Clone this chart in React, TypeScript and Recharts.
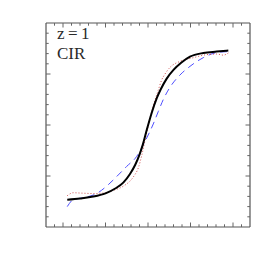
import React from 'react';
import { LineChart, Line, XAxis, YAxis } from 'recharts';

const blackX = [2.5, 4.0, 5.56, 7.0, 8.2, 9.09, 9.88, 10.5, 11.0, 11.4, 11.85, 12.44, 13.02, 13.5, 14.2, 15.0, 15.9, 16.94, 18.5, 20.08, 21.45];
const blackY = [2.68, 2.8, 2.98, 3.3, 3.8, 4.35, 5.2, 6.1, 7.1, 8.1, 9.5, 11.2, 12.6, 13.5, 14.55, 15.4, 16.1, 16.7, 17.06, 17.2, 17.3];

const redX = [2.5, 3.21, 4.0, 5.56, 6.74, 7.92, 9.09, 10.27, 10.86, 11.26, 11.65, 12.04, 12.62, 13.2, 13.6, 14.0, 14.59, 15.76, 17.33, 18.9, 20.08, 20.86, 21.45];
const redY = [3.07, 3.36, 3.33, 3.28, 3.33, 3.6, 4.0, 4.9, 5.8, 7.0, 8.5, 10.0, 11.9, 13.4, 14.4, 15.0, 15.65, 16.24, 16.6, 16.9, 16.96, 16.85, 17.06];

const blueX = [2.5, 3.21, 4.24, 6.0, 7.33, 8.5, 9.49, 10.67, 11.65, 12.62, 13.2, 13.8, 14.59, 15.76, 16.94, 18.5, 20.08, 21.45];
const blueY = [2.0, 2.68, 2.85, 3.3, 4.15, 5.1, 5.94, 6.92, 8.4, 10.1, 11.3, 12.5, 13.7, 14.9, 15.75, 16.6, 17.1, 17.2];

const xTicks = Array.from({ length: 23 }, (_, i) => i + 1);
const yTicks = Array.from({ length: 19 }, (_, i) => i + 1);
const xMajor = [2, 7, 12, 17, 22];
const yMajor = [5, 10, 15];

const labels = ['z\u2009=\u20091', 'CIR'];

const toRows = (xs: number[], ys: number[]) => xs.map((x, i) => ({ x, y: ys[i] }));
const black = toRows(blackX, blackY);
const red = toRows(redX, redY);
const blue = toRows(blueX, blueY);

const TICK = '#666';
const FRAME = '#555';

const makeTick = (side: 'bottom' | 'top' | 'left' | 'right', majors: number[]) => (props: any) => {
  const { x, y, payload } = props;
  const len = majors.includes(payload.value) ? 4.5 : 2.7;
  let x2 = x, y2 = y;
  if (side === 'bottom') y2 = y - len;
  if (side === 'top') y2 = y + len;
  if (side === 'left') x2 = x + len;
  if (side === 'right') x2 = x - len;
  return <line x1={x} y1={y} x2={x2} y2={y2} stroke={TICK} strokeWidth={1} />;
};

export default function App() {
  return (
    <div style={{ position: 'absolute', left: 0, top: 0, width: 273, height: 273, background: '#fff' }}>
      <LineChart width={273} height={273} margin={{ top: 22, left: 45, right: 22, bottom: 45 }}>
        <XAxis xAxisId="b" dataKey="x" type="number" domain={[0, 24]} ticks={xTicks} interval={0}
          orientation="bottom" height={1} tickSize={0} tickMargin={0} tickLine={false}
          axisLine={{ stroke: FRAME, strokeWidth: 1.2 }} tick={makeTick('bottom', xMajor)} allowDataOverflow />
        <XAxis xAxisId="t" dataKey="x" type="number" domain={[0, 24]} ticks={xTicks} interval={0}
          orientation="top" height={1} tickSize={0} tickMargin={0} tickLine={false}
          axisLine={{ stroke: FRAME, strokeWidth: 1.2 }} tick={makeTick('top', xMajor)} allowDataOverflow />
        <YAxis yAxisId="l" dataKey="y" type="number" domain={[0, 20]} ticks={yTicks} interval={0}
          orientation="left" width={1} tickSize={0} tickMargin={0} tickLine={false}
          axisLine={{ stroke: FRAME, strokeWidth: 1.2 }} tick={makeTick('left', yMajor)} allowDataOverflow />
        <YAxis yAxisId="r" dataKey="y" type="number" domain={[0, 20]} ticks={yTicks} interval={0}
          orientation="right" width={1} tickSize={0} tickMargin={0} tickLine={false}
          axisLine={{ stroke: FRAME, strokeWidth: 1.2 }} tick={makeTick('right', yMajor)} allowDataOverflow />
        <Line xAxisId="b" yAxisId="l" data={blue} dataKey="y" type="monotone" stroke="#4d4dff"
          strokeWidth={1} strokeDasharray="7 5" dot={false} isAnimationActive={false} />
        <Line xAxisId="b" yAxisId="l" data={red} dataKey="y" type="monotone" stroke="#d05050"
          strokeWidth={1} strokeDasharray="1 2" dot={false} isAnimationActive={false} />
        <Line xAxisId="b" yAxisId="l" data={black} dataKey="y" type="monotone" stroke="#000"
          strokeWidth={2} dot={false} isAnimationActive={false} />
      </LineChart>
      <div style={{ position: 'absolute', left: 57, top: 23.5, fontFamily: '"Liberation Serif", serif', fontSize: 17, lineHeight: '20px', color: '#2a2a2a' }}>
        {labels.map((t) => <div key={t} style={{ whiteSpace: 'pre' }}>{t}</div>)}
      </div>
    </div>
  );
}
